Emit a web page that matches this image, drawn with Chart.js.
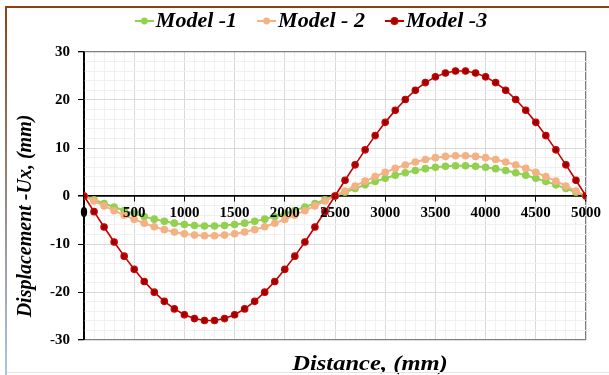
<!DOCTYPE html>
<html><head><meta charset="utf-8">
<script src="https://cdn.jsdelivr.net/npm/chart.js@4.4.0/dist/chart.umd.min.js"></script>
<style>
html,body{margin:0;padding:0;background:#fff;}
#wrap{position:relative;width:609px;height:375px;overflow:hidden;}
#ftop{position:absolute;left:5px;top:6px;width:604px;height:2px;background:#8B4513;}
#fleft{position:absolute;left:5px;top:6px;width:2px;height:369px;background:linear-gradient(#8B4513,#A9C4EB);}
#fbot{position:absolute;left:7px;top:372px;width:602px;height:1px;background:#e4e4e4;}
canvas{position:absolute;left:0;top:0;}
</style></head>
<body><div id="wrap"><canvas id="c" width="609" height="375"></canvas><div id="ftop"></div><div id="fleft"></div><div id="fbot"></div></div>
<script>
const distances = [0,100,200,300,400,500,600,700,800,900,1000,1100,1200,1300,1400,1500,1600,1700,1800,1900,2000,2100,2200,2300,2400,2500,2600,2700,2800,2900,3000,3100,3200,3300,3400,3500,3600,3700,3800,3900,4000,4100,4200,4300,4400,4500,4600,4700,4800,4900,5000];
const model1 = [0,-0.78,-1.55,-2.30,-3.01,-3.67,-4.28,-4.82,-5.28,-5.66,-5.94,-6.14,-6.24,-6.24,-6.14,-5.94,-5.66,-5.28,-4.82,-4.28,-3.67,-3.01,-2.30,-1.55,-0.78,0,0.79,1.57,2.32,3.04,3.70,4.31,4.85,5.32,5.70,5.99,6.19,6.29,6.29,6.19,5.99,5.70,5.32,4.85,4.31,3.70,3.04,2.32,1.57,0.79,0];
const model2 = [0,-1.04,-2.06,-3.06,-4.00,-4.88,-5.68,-6.40,-7.01,-7.51,-7.89,-8.15,-8.28,-8.28,-8.15,-7.89,-7.51,-7.01,-6.40,-5.68,-4.88,-4.00,-3.06,-2.06,-1.04,0,1.05,2.09,3.09,4.05,4.94,5.75,6.47,7.09,7.60,7.99,8.25,8.38,8.38,8.25,7.99,7.60,7.09,6.47,5.75,4.94,4.05,3.09,2.09,1.05,0];
const model3 = [0,-3.26,-6.47,-9.57,-12.53,-15.28,-17.80,-20.03,-21.95,-23.52,-24.73,-25.54,-25.95,-25.95,-25.54,-24.73,-23.52,-21.95,-20.03,-17.80,-15.28,-12.53,-9.57,-6.47,-3.26,0,3.27,6.49,9.61,12.58,15.34,17.87,20.11,22.04,23.62,24.82,25.64,26.05,26.05,25.64,24.82,23.62,22.04,20.11,17.87,15.34,12.58,9.61,6.49,3.27,0];
const seriesNames = ['Model -1','Model - 2','Model -3'];
const xTickLabels = ['0','500','1000','1500','2000','2500','3000','3500','4000','4500','5000'];
const yTickLabels = ['-30','-20','-10','0','10','20','30'];
const xTitle = 'Distance, (mm)';
const yTitle = 'Displacement -Ux, (mm)';

const FONT = '"Liberation Serif", "Times New Roman", serif';

function pts(arr){ return distances.map((d,i)=>({x:d,y:arr[i]})); }

function legendIcon(color, fill, stroke){
  const cv = document.createElement('canvas');
  cv.width = 38; cv.height = 10;
  const g = cv.getContext('2d');
  g.strokeStyle = color; g.lineWidth = 2;
  g.beginPath(); g.moveTo(19,5); g.lineTo(38,5); g.stroke();
  g.fillStyle = fill; g.beginPath(); g.arc(28.5,5,3.4,0,Math.PI*2); g.fill();
  if (stroke){ g.strokeStyle = stroke; g.lineWidth = 1.2; g.stroke(); }
  return cv;
}
const icons = [legendIcon('#92D050','#92D050'), legendIcon('#F4B183','#F4B183'), legendIcon('#C00000','#9B0000','#D00000')];

const titlesPlugin = {
  id:'titles',
  beforeLayout(chart){
    const lg = chart.legend;
    if (lg && !lg._patched){
      const orig = lg.fit;
      lg.fit = function(){ orig.call(this); this.height = 52; };
      lg._patched = true;
    }
  },
  afterDraw(chart){
    const ctx = chart.ctx;
    ctx.save();
    ctx.fillStyle = '#000';
    ctx.font = 'italic bold 21px ' + FONT;
    ctx.textAlign = 'center'; ctx.textBaseline = 'alphabetic';
    ctx.save();
    ctx.translate(370, 370);
    ctx.scale(1.17, 1);
    ctx.fillText(xTitle, 0, 0);
    ctx.restore();
    ctx.translate(26, 216);
    ctx.rotate(-Math.PI/2);
    ctx.font = 'italic bold 20px ' + FONT;
    ctx.textBaseline = 'middle';
    ctx.fillText(yTitle, 0, 0);
    ctx.restore();
  }
};

const xLabelCb = (v)=>xTickLabels.includes(String(v))?String(v):'';
const tickFont = {family:FONT, size:15, weight:'bold'};

new Chart(document.getElementById('c'), {
  type:'line',
  data:{
    datasets:[
      {label:seriesNames[0], data:pts(model1), borderColor:'#92D050', backgroundColor:'#92D050', pointBackgroundColor:'#92D050', pointBorderColor:'#92D050', borderWidth:2, pointRadius:3.8, pointBorderWidth:0, order:3},
      {label:seriesNames[1], data:pts(model2), borderColor:'#F4B183', backgroundColor:'#F4B183', pointBackgroundColor:'#F4B183', pointBorderColor:'#F4B183', borderWidth:2, pointRadius:3.8, pointBorderWidth:0, order:2},
      {label:seriesNames[2], data:pts(model3), borderColor:'#C00000', backgroundColor:'#9B0000', pointBackgroundColor:'#9B0000', pointBorderColor:'#D00000', borderWidth:1.6, pointRadius:3.2, pointBorderWidth:1.2, order:1}
    ]
  },
  options:{
    responsive:false, animation:false,
    layout:{padding:{top:0,left:26,right:23,bottom:35}},
    plugins:{
      tooltip:{enabled:false},
      legend:{
        display:true, position:'top',
        labels:{
          usePointStyle:true, pointStyleWidth:20, padding:10, color:'#000',
          font:{family:FONT, size:22, style:'italic', weight:'bold'},
          generateLabels:(chart)=>chart.data.datasets.map((ds,i)=>({
            text:ds.label, pointStyle:icons[i], fillStyle:ds.borderColor, strokeStyle:ds.borderColor,
            lineWidth:0, hidden:!chart.isDatasetVisible(i), datasetIndex:i, fontColor:'#000'
          }))
        }
      }
    },
    scales:{
      x:{
        type:'linear', axis:'x', min:0, max:5000, position:{y:0},
        border:{display:true, color:'#000', width:1.5},
        grid:{
          color:(c)=>{const v=c.tick.value; if(v===0) return '#000'; if(v===5000) return '#7f7f7f'; return v%500===0?'#d9d9d9':'#f0f0f0';},
          lineWidth:(c)=>c.tick.value===5000?1.3:1,
          tickColor:(c)=>c.tick.value%500===0?'#000':'rgba(0,0,0,0)',
          tickLength:5, drawTicks:true
        },
        ticks:{ stepSize:100, autoSkip:false, maxRotation:0, padding:3, z:1, color:'#000', font:tickFont, callback:xLabelCb }
      },
      y:{
        min:-30, max:30, position:'left',
        afterFit:(s)=>{s.width=58;},
        border:{display:true, color:'#000', width:1.5},
        grid:{
          color:(c)=>{const v=c.tick.value; if(v===0) return '#000'; if(v===30||v===-30) return '#7f7f7f'; return v%10===0?'#d9d9d9':'#f0f0f0';},
          lineWidth:(c)=>(c.tick.value===0)?1.5:((c.tick.value===30||c.tick.value===-30)?1.3:1),
          tickColor:(c)=>c.tick.value%10===0?'#000':'rgba(0,0,0,0)',
          tickLength:6, drawTicks:true
        },
        ticks:{
          stepSize:2, autoSkip:false, padding:8, color:'#000', font:tickFont,
          callback:(v)=>yTickLabels.includes(String(v))?String(v):''
        }
      }
    }
  },
  plugins:[titlesPlugin]
});
</script>
</body></html>
